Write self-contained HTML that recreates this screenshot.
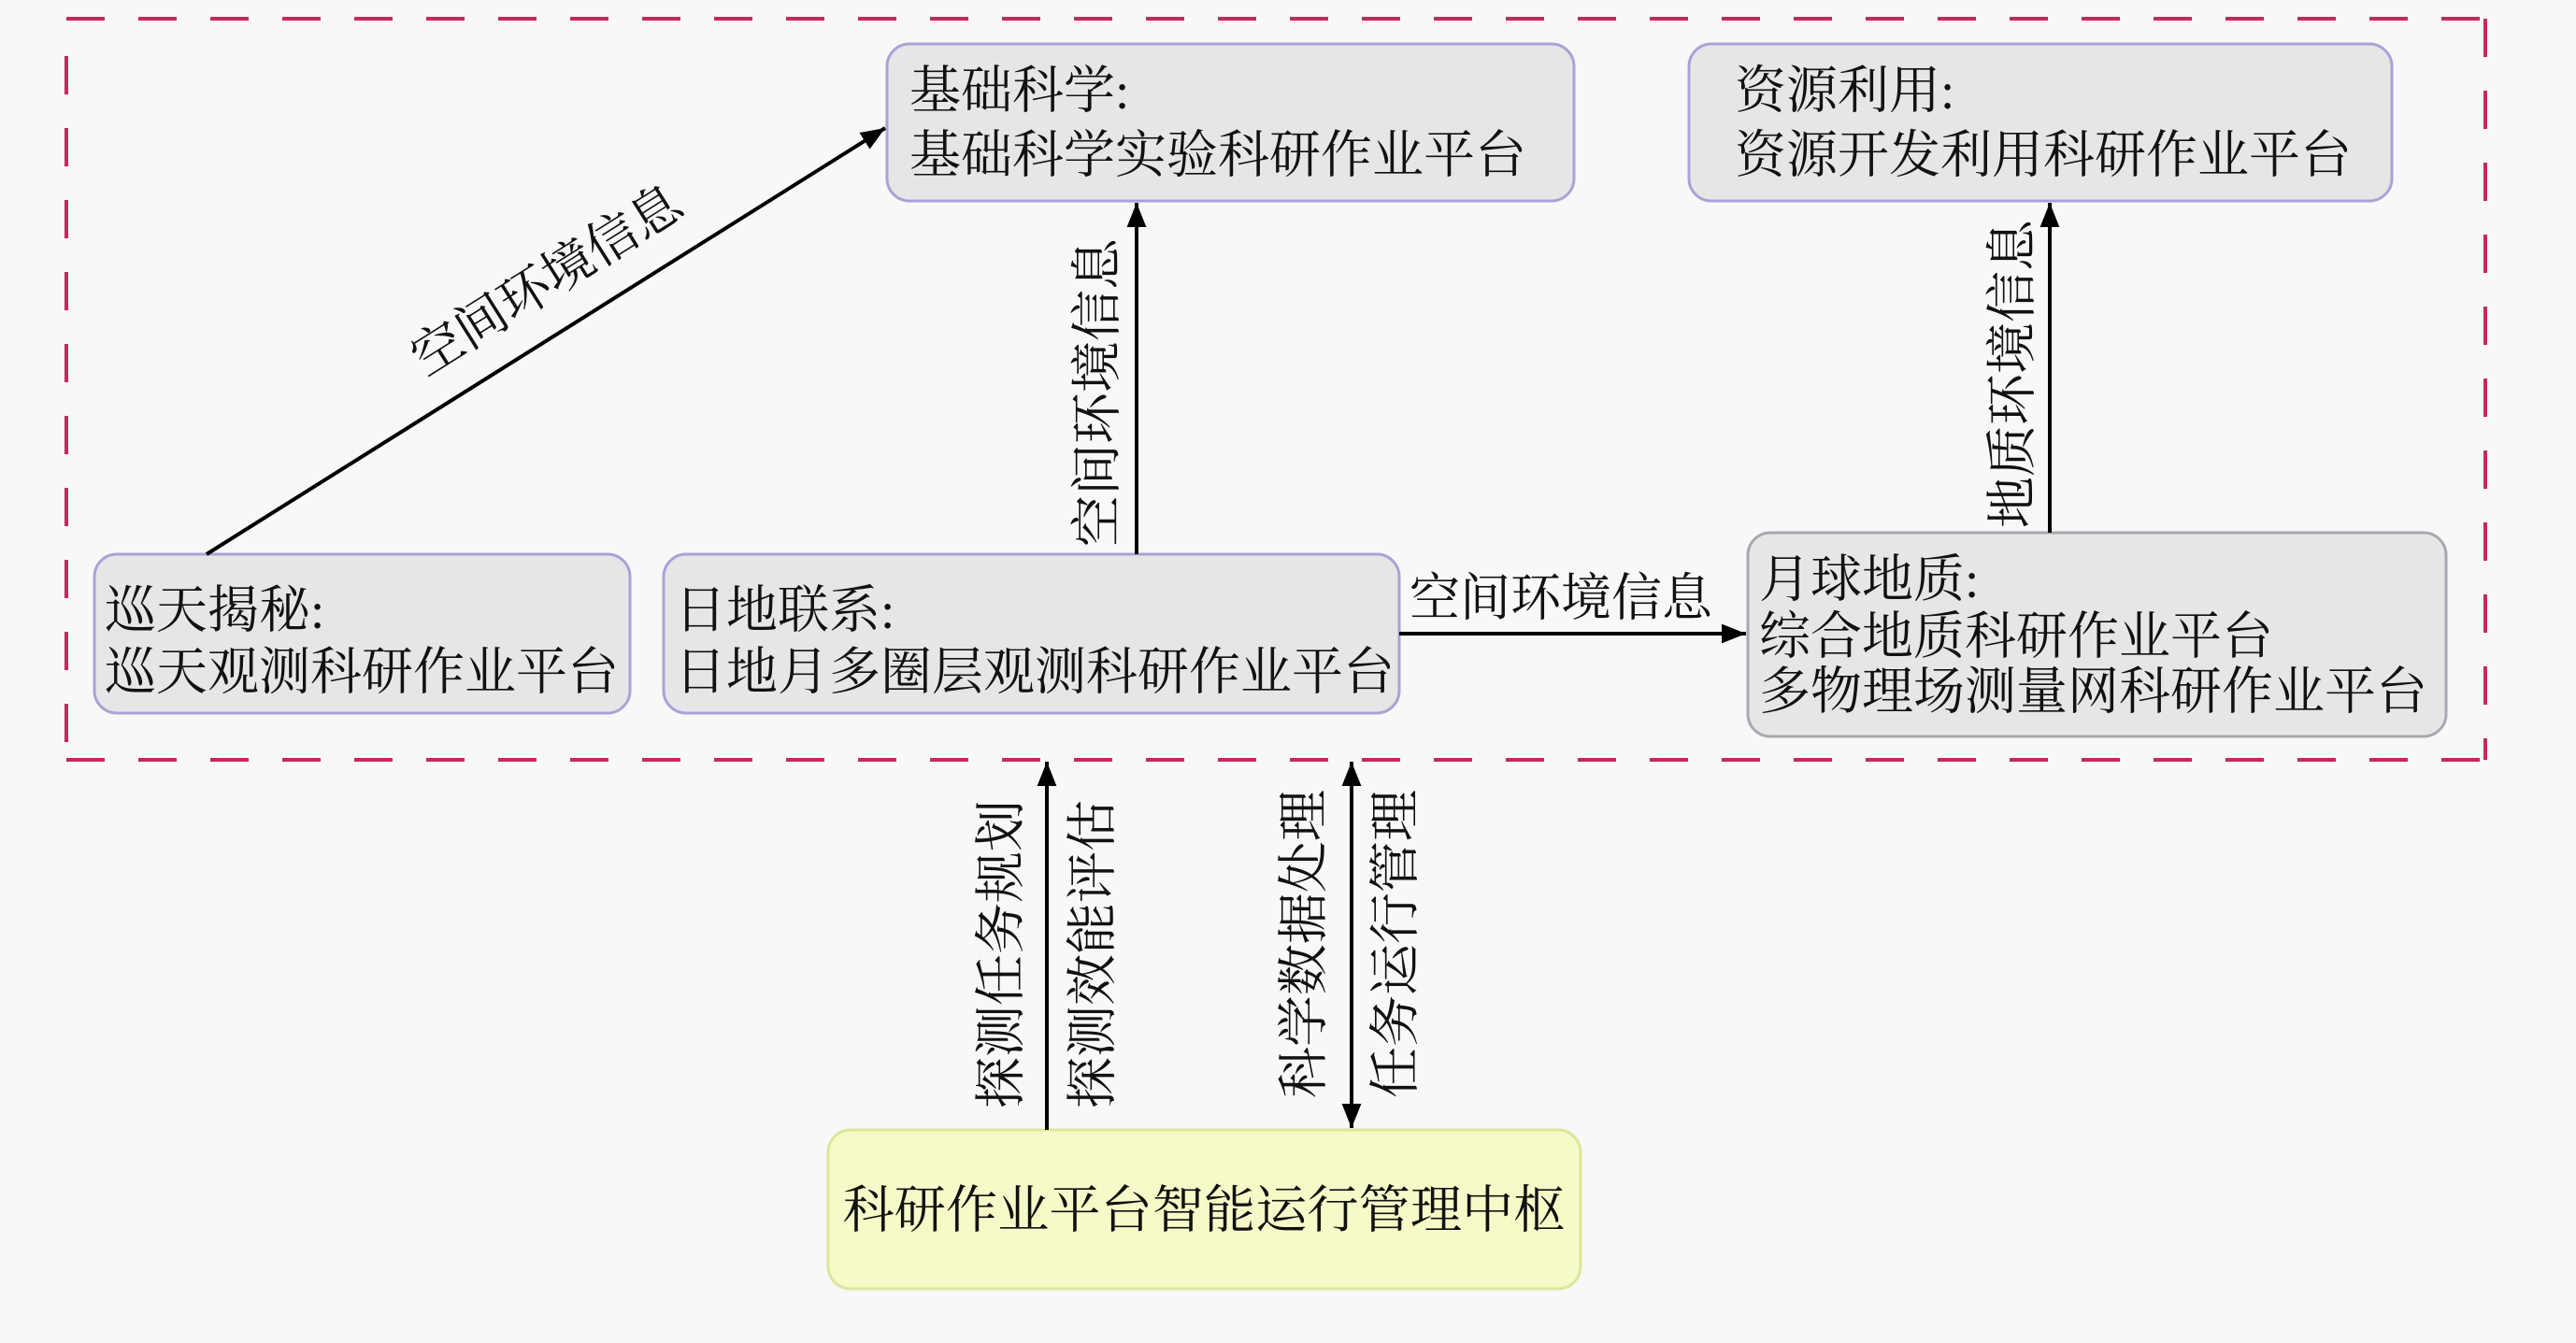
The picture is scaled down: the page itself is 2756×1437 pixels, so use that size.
<!DOCTYPE html>
<html><head><meta charset="utf-8"><style>
html,body{margin:0;padding:0;background:#f8f8f8;}
svg{display:block;}
text{font-family:"Liberation Serif","Noto Serif CJK SC","Noto Sans CJK SC",serif;font-size:55px;fill:#111;dominant-baseline:central;}
</style></head><body>
<svg width="2756" height="1437" viewBox="0 0 2756 1437" xmlns="http://www.w3.org/2000/svg">
<defs>
<marker id="a" viewBox="0 0 10 10" refX="10" refY="5" markerWidth="26" markerHeight="26" markerUnits="userSpaceOnUse" orient="auto-start-reverse"><path d="M0,1 L10,5 L0,9 z" fill="#000"/></marker>
</defs>
<rect width="2756" height="1437" fill="#f8f8f8"/>
<g stroke="#c8285a" stroke-width="4" fill="none" stroke-dasharray="41 36">
<line x1="71" y1="20" x2="2659" y2="20"/>
<line x1="71" y1="813" x2="2659" y2="813"/>
<line x1="71" y1="60" x2="71" y2="813"/>
<line x1="2659" y1="20" x2="2659" y2="813"/>
</g>
<g fill="#e6e6e6" stroke="#aaa2d6" stroke-width="3">
<rect x="949" y="47" width="735" height="168" rx="24"/>
<rect x="1807" y="47" width="752" height="168" rx="24"/>
<rect x="101" y="593" width="573" height="170" rx="24"/>
<rect x="710" y="593" width="787" height="170" rx="24"/>
<rect x="1870" y="570" width="747" height="218" rx="24" stroke="#a8a8b0"/>
</g>
<rect x="886" y="1209" width="805" height="170" rx="24" fill="#f6fac8" stroke="#dde59a" stroke-width="3"/>
<g stroke="#000" stroke-width="4" fill="none">
<line x1="221" y1="593" x2="947" y2="137" marker-end="url(#a)"/>
<line x1="1216" y1="593" x2="1216" y2="217" marker-end="url(#a)"/>
<line x1="2193" y1="570" x2="2193" y2="217" marker-end="url(#a)"/>
<line x1="1497" y1="678" x2="1868" y2="678" marker-end="url(#a)"/>
<line x1="1120" y1="1209" x2="1120" y2="815" marker-end="url(#a)"/>
<line x1="1446" y1="1207" x2="1446" y2="815" marker-end="url(#a)" marker-start="url(#a)"/>
</g>
<text x="973" y="97">基础科学:</text>
<text x="973" y="166">基础科学实验科研作业平台</text>
<text x="1856" y="97">资源利用:</text>
<text x="1856" y="166">资源开发利用科研作业平台</text>
<text x="112" y="653">巡天揭秘:</text>
<text x="112" y="719">巡天观测科研作业平台</text>
<text x="722" y="653">日地联系:</text>
<text x="722" y="719">日地月多圈层观测科研作业平台</text>
<text x="1882" y="620">月球地质:</text>
<text x="1882" y="681">综合地质科研作业平台</text>
<text x="1882" y="740">多物理场测量网科研作业平台</text>
<text x="1288" y="1295" text-anchor="middle" textLength="773" lengthAdjust="spacingAndGlyphs">科研作业平台智能运行管理中枢</text>
<text x="1670" y="640" text-anchor="middle" textLength="324" lengthAdjust="spacingAndGlyphs">空间环境信息</text>
<text transform="translate(585,300) rotate(-32.2)" text-anchor="middle">空间环境信息</text>
<text transform="translate(1174,420) rotate(-90)" text-anchor="middle">空间环境信息</text>
<text transform="translate(2153,400) rotate(-90)" text-anchor="middle">地质环境信息</text>
<text transform="translate(1071,1021) rotate(-90)" text-anchor="middle">探测任务规划</text>
<text transform="translate(1169,1021) rotate(-90)" text-anchor="middle">探测效能评估</text>
<text transform="translate(1395,1010) rotate(-90)" text-anchor="middle">科学数据处理</text>
<text transform="translate(1493,1010) rotate(-90)" text-anchor="middle">任务运行管理</text>
</svg>
</body></html>
